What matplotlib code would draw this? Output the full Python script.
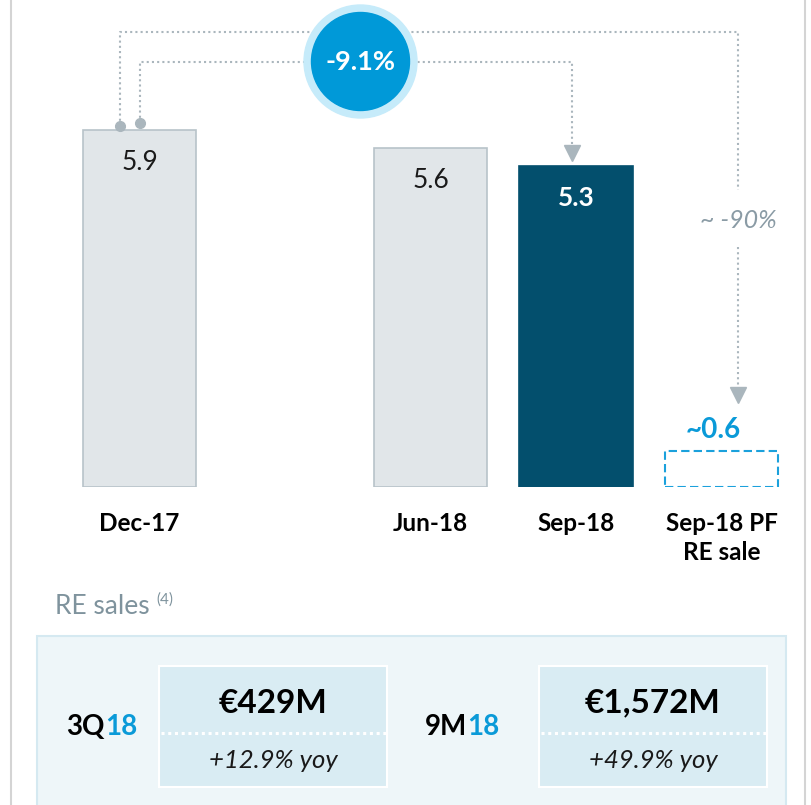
import matplotlib.pyplot as plt
from matplotlib.patches import Circle, Rectangle

plt.rcParams['font.family'] = ['Lato', 'DejaVu Sans']

# loan book figures (EUR bn)
categories = ['Dec-17', 'Jun-18', 'Sep-18', 'Sep-18 PF\nRE sale']
positions = [0, 2, 3, 4]
values = [5.9, 5.6, 5.3, 0.6]
value_labels = ['5.9', '5.6', '5.3', '~0.6']
change_main = '-9.1%'
change_pf = '~ -90%'

# RE sales box
periods = [('3Q', '18'), ('9M', '18')]
sales = ['€429M', '€1,572M']
growth = ['+12.9% yoy', '+49.9% yoy']

light = '#e1e6e9'
light_edge = '#b8c3c9'
dark = '#034f6d'
blue = '#0a9ad8'
grey_line = '#aab6bd'
grey_text = '#8a9ba5'

W, H = 812, 805
fig = plt.figure(figsize=(W / 100, H / 100), dpi=100)

# bar area: zero line sits 487px from the top, 60.5px per unit, 145.5px per slot
px_unit = 60.5
base_px = 487
ax = fig.add_axes([0, (H - base_px) / H, 1, base_px / H])
ax.set_ylim(0, base_px / px_unit)
ax.set_xlim(-139.5 / 145.5, (W - 139.5) / 145.5)
for s in ax.spines.values():
    s.set_visible(False)
ax.set_yticks([])
ax.patch.set_alpha(0)

ax.bar(positions[:3], values[:3], width=0.777, color=[light, light, dark],
       edgecolor=[light_edge, light_edge, dark], linewidth=1.2, zorder=2)
ax.bar(positions[3], values[3], width=0.777, fill=False, edgecolor='#1ba1dc',
       linewidth=1.5, linestyle=(0, (4, 2)), zorder=2)

ax.set_xticks(positions)
ax.set_xticklabels(categories, fontsize=17.5, fontweight='bold', linespacing=1.3)
ax.tick_params(axis='x', length=0, pad=18)

for i, (p, v, lab) in enumerate(zip(positions, values, value_labels)):
    if i == 3:
        ax.text(p - 0.06, v + 0.34, lab, ha='center', va='center', fontsize=20,
                fontweight='bold', color=blue)
    elif i == 2:
        ax.text(p, v - 0.53, lab, ha='center', va='center', fontsize=19,
                fontweight='bold', color='white')
    else:
        ax.text(p, v - 0.53, lab, ha='center', va='center', fontsize=19,
                color='#1a1a1a')

dot = dict(color=grey_line, linewidth=1.5, linestyle=(0, (1, 1.5)),
           clip_on=False, zorder=1)

# outer connector: Dec-17 -> Sep-18 PF
ox0 = positions[0] - 0.137
ox1 = positions[3] + 0.115
top_out = 7.52
ax.plot([ox0, ox0, ox1, ox1], [values[0] + 0.07, top_out, top_out, 4.91], **dot)
ax.plot([ox1, ox1], [3.97, values[3] + 1.05], **dot)
ax.plot(ox1, values[3] + 0.92, marker='v', ms=11, color=grey_line,
        clip_on=False, zorder=3)
ax.plot(ox0, values[0] + 0.07, marker='o', ms=7, color=grey_line,
        clip_on=False, zorder=3)
ax.text(ox1, 4.41, change_pf, ha='center', va='center', fontsize=18,
        style='italic', color=grey_text)

# inner connector: Dec-17 -> Sep-18
ix0 = positions[0] + 0.003
ix1 = positions[2] - 0.03
top_in = 7.02
ax.plot([ix0, ix0, ix1, ix1], [values[0] + 0.12, top_in, top_in, values[2] + 0.3], **dot)
ax.plot(ix1, values[2] + 0.22, marker='v', ms=11, color=grey_line,
        clip_on=False, zorder=3)
ax.plot(ix0, values[0] + 0.12, marker='o', ms=7, color=grey_line,
        clip_on=False, zorder=3)

# overlay in pixel units for the badge and the RE sales panel
ov = fig.add_axes([0, 0, 1, 1])
ov.set_xlim(0, W)
ov.set_ylim(H, 0)
ov.axis('off')

ov.add_patch(Circle((360.5, 61.5), 56.5, color='#c6ebfa', zorder=4))
ov.add_patch(Circle((360.5, 61.5), 49, color='#0099d8', zorder=5))
ov.text(360.5, 62, change_main, ha='center', va='center', fontsize=19.5,
        fontweight='bold', color='white', zorder=6)

# page edges
ov.plot([11, 11], [0, H], color='#d4d4d4', linewidth=1.5)
ov.plot([805, 805], [0, H], color='#d4d4d4', linewidth=1.5)

ov.text(55, 606, 'RE sales', ha='left', va='center', fontsize=19,
        color='#7f939d')
ov.text(156, 600, '(4)', ha='left', va='center', fontsize=11, color='#7f939d')

ov.add_patch(Rectangle((37, 636), 749, 180, facecolor='#eef6f9',
                       edgecolor='#d5e9f1', linewidth=1.5))

box_x = [159, 539]
label_split = [105, 467]
for bx, split, (pa, pb), val, gr in zip(box_x, label_split, periods, sales, growth):
    ov.add_patch(Rectangle((bx, 666), 228, 121, facecolor='#d9ecf3',
                           edgecolor='white', linewidth=1.5))
    ov.plot([bx + 2, bx + 230], [733, 733], color='white', linewidth=2.2,
            linestyle=(0, (1, 1.2)))
    cx = bx + 114
    ov.text(cx, 703, val, ha='center', va='center', fontsize=24,
            fontweight='bold', color='black')
    ov.text(cx, 760, gr, ha='center', va='center', fontsize=18.5,
            style='italic', color='#1a1a1a')
    ov.text(split, 727, pa, ha='right', va='center', fontsize=20,
            fontweight='bold', color='black')
    ov.text(split, 727, pb, ha='left', va='center', fontsize=20,
            fontweight='bold', color=blue)

fig.savefig('out.png', dpi=100, facecolor='white')
